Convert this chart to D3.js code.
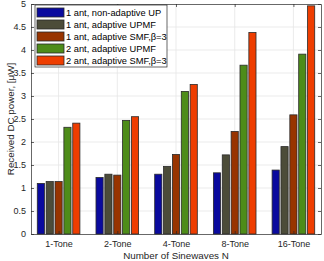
<!DOCTYPE html>
<html>
<head>
<meta charset="utf-8">
<script src="https://cdn.jsdelivr.net/npm/d3@7"></script>
<style>
body { margin: 0; background: #fff; }
svg { display: block; font-family: "Liberation Sans", Arial, sans-serif; }
.grid line { stroke: #e6e6e6; stroke-width: 0.8; }
.axis text { fill: #262626; font-size: 9px; }
.axis path, .axis line { stroke: #262626; stroke-width: 0.7; }
</style>
</head>
<body>
<svg width="324" height="261"></svg>
<script>
const width = 324
const height = 261
const margins = { top: 4, bottom: 27, left: 31, right: 3 }

// data
const categories = ["1-Tone", "2-Tone", "4-Tone", "8-Tone", "16-Tone"]
const seriesNames = ["1 ant, non-adaptive UP", "1 ant, adaptive UPMF", "1 ant, adaptive SMF,\u03b2=3", "2 ant, adaptive UPMF", "2 ant, adaptive SMF,\u03b2=3"]
const nonAdaptiveUP1 = [1.10, 1.23, 1.30, 1.33, 1.39]
const adaptiveUPMF1 = [1.14, 1.30, 1.47, 1.72, 1.90]
const adaptiveSMF1 = [1.14, 1.28, 1.73, 2.23, 2.59]
const adaptiveUPMF2 = [2.32, 2.47, 3.10, 3.67, 3.91]
const adaptiveSMF2 = [2.41, 2.55, 3.25, 4.38, 4.96]
const yTicks = [0, 0.5, 1, 1.5, 2, 2.5, 3, 3.5, 4, 4.5, 5]

const series = [nonAdaptiveUP1, adaptiveUPMF1, adaptiveSMF1, adaptiveUPMF2, adaptiveSMF2]
const colors = ["#0a0a9e", "#4c4c39", "#983400", "#4e8c19", "#ee3d00"]

let svg = d3.select('svg')

// scales
let xScale = d3.scaleLinear()
    .domain([0.53, 5.47])
    .range([margins.left, width - margins.right])
let yScale = d3.scaleLinear()
    .domain([0, 5])
    .range([height - margins.bottom, margins.top])

const barStep = 0.151
const barWidth = 0.122

// grid lines
svg.append('g')
    .attr("class", "grid")
    .selectAll("line.h")
    .data(yTicks.slice(1, -1))
    .enter()
    .append("line")
    .attr("x1", margins.left).attr("x2", width - margins.right)
    .attr("y1", d => yScale(d)).attr("y2", d => yScale(d))
svg.append('g')
    .attr("class", "grid")
    .selectAll("line.v")
    .data(categories)
    .enter()
    .append("line")
    .attr("x1", (d, i) => xScale(i + 1)).attr("x2", (d, i) => xScale(i + 1))
    .attr("y1", margins.top).attr("y2", height - margins.bottom)

// bars
series.forEach((vals, s) => {
    svg.append("g")
        .selectAll("rect")
        .data(vals)
        .enter()
        .append("rect")
        .attr("x", (d, i) => xScale(i + 1 + (s - 2) * barStep - barWidth / 2))
        .attr("width", xScale(barWidth) - xScale(0))
        .attr("y", d => yScale(d))
        .attr("height", d => yScale(0) - yScale(d))
        .attr("fill", colors[s])
        .attr("stroke", "#2a2a2a")
        .attr("stroke-width", 0.8)
})

// axes
const tickFmt = d => d3.format("")(d)
svg.append('g')
    .attr("class", "axis")
    .attr("transform", `translate(${margins.left},0)`)
    .call(d3.axisLeft(yScale).tickValues(yTicks).tickSizeInner(-3).tickSizeOuter(0).tickPadding(5).tickFormat(tickFmt))
svg.append('g')
    .attr("class", "axis")
    .attr("transform", `translate(${width - margins.right},0)`)
    .call(d3.axisRight(yScale).tickValues(yTicks).tickSizeInner(-3).tickSizeOuter(0).tickFormat(""))
svg.append('g')
    .attr("class", "axis")
    .attr("transform", `translate(0,${height - margins.bottom})`)
    .call(d3.axisBottom(xScale).tickValues([1, 2, 3, 4, 5]).tickSizeInner(-3).tickSizeOuter(0).tickPadding(7)
        .tickFormat(d => categories[d - 1]))
svg.append('g')
    .attr("class", "axis")
    .attr("transform", `translate(0,${margins.top})`)
    .call(d3.axisTop(xScale).tickValues([1, 2, 3, 4, 5]).tickSizeInner(-3).tickSizeOuter(0).tickFormat(""))

// axis labels
svg.append("text")
    .attr("x", (margins.left + width - margins.right) / 2)
    .attr("y", 259)
    .attr("text-anchor", "middle")
    .attr("font-size", "9.8px")
    .attr("fill", "#262626")
    .text("Number of Sinewaves N")
svg.append("text")
    .attr("transform", `translate(13.5,${(margins.top + height - margins.bottom) / 2}) rotate(-90)`)
    .attr("text-anchor", "middle")
    .attr("font-size", "9.8px")
    .attr("fill", "#262626")
    .text("Received DC power, [\u03bcW]")

// legend
const legend = svg.append("g").attr("class", "legend")
legend.append("rect")
    .attr("x", 35).attr("y", 5)
    .attr("width", 132).attr("height", 62)
    .attr("fill", "#fff")
    .attr("stroke", "#262626")
    .attr("stroke-width", 0.7)
const items = legend.selectAll("g.item")
    .data(seriesNames)
    .enter()
    .append("g")
    .attr("transform", (d, i) => `translate(37,${8 + i * 12})`)
items.append("rect")
    .attr("width", 27).attr("height", 9)
    .attr("fill", (d, i) => colors[i])
    .attr("stroke", "#2a2a2a")
    .attr("stroke-width", 0.8)
items.append("text")
    .attr("x", 29).attr("y", 8.2)
    .attr("font-size", "9.3px")
    .attr("fill", "#000")
    .text(d => d)
</script>
</body>
</html>
